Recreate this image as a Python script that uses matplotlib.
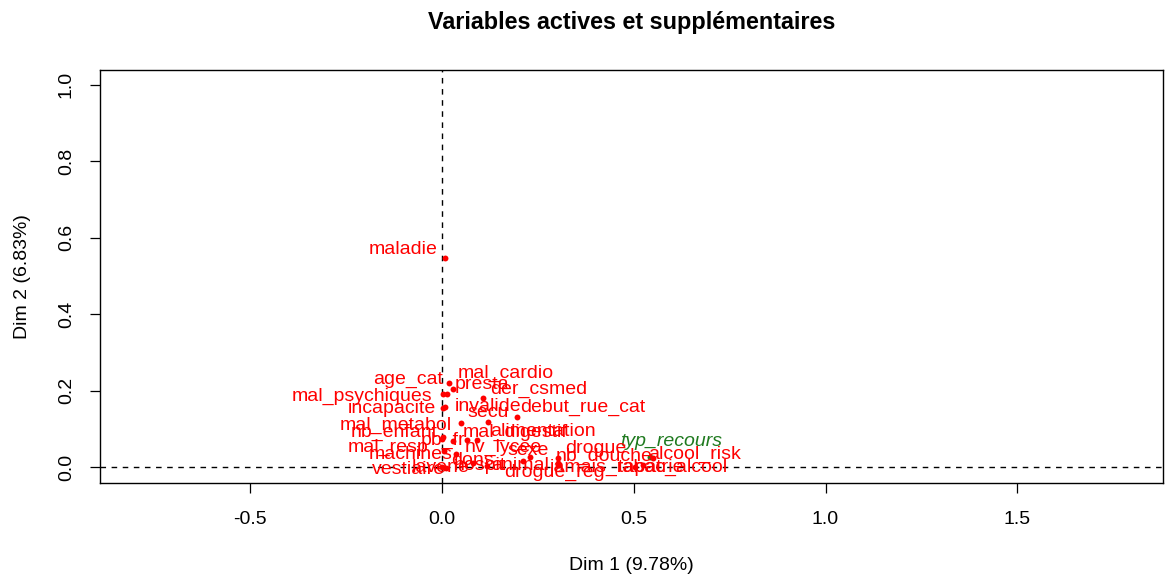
import matplotlib
matplotlib.use("Agg")
import matplotlib.pyplot as plt

plt.rcParams['font.family'] = ['Liberation Sans', 'DejaVu Sans']

# ---- data (MCA variable coordinates) ----
labels = ["maladie", "age_cat", "mal_cardio", "presta", "mal_psychiques", "der_csmed",
          "invalide", "incapacite", "debut_rue_cat", "secu", "mal_metabol", "nb_enfant",
          "mal_digestif", "nv_lycee", "alimentation", "pb_fr", "mal_resp", "machines",
          "dons", "sexe", "animal", "drogue", "nb_douche", "alcool_risk", "vestiaire",
          "laverie", "hospit", "drogue_reg", "jamais_rapatrie", "tabac_alcool",
          "typ_recours"]
dim1 = [0.008, 0.018, 0.029, 0.013, 0.003, 0.107,
        0.008, 0.003, 0.196, 0.120, 0.050, 0.003,
        0.029, 0.065, 0.091, 0.000, 0.005, 0.037,
        0.081, 0.230, 0.211, 0.302, 0.302, 0.550, 0.000,
        0.010, 0.117, 0.302, 0.503, 0.524,
        0.542]
dim2 = [0.547, 0.220, 0.204, 0.191, 0.191, 0.181,
        0.157, 0.154, 0.131, 0.118, 0.115, 0.079,
        0.068, 0.071, 0.071, 0.073, 0.042, 0.034,
        0.010, 0.026, 0.016, 0.024, 0.010, 0.024, 0.000,
        -0.003, 0.003, 0.005, 0.000, 0.005,
        0.026]
kind = ["active"] * 30 + ["supp"]

title = "Variables actives et supplémentaires"
xlabel = "Dim 1 (9.78%)"
ylabel = "Dim 2 (6.83%)"
xticks = [-0.5, 0.0, 0.5, 1.0, 1.5]
yticks = [0.0, 0.2, 0.4, 0.6, 0.8, 1.0]

# ---- label placement (pixel offsets, alignment) ----
label_place = {
    "maladie": (-8, 8, "right"), "age_cat": (-6, 3, "right"),
    "mal_cardio": (5, 16, "left"), "presta": (8, 9, "left"),
    "mal_psychiques": (-11, -2, "right"), "der_csmed": (7, 8, "left"),
    "invalide": (10, 0, "left"), "incapacite": (-7, 0, "right"),
    "debut_rue_cat": (3, 9, "left"), "secu": (0, 9, "center"),
    "mal_metabol": (-9, -2, "right"), "nb_enfant": (-6, 4, "right"),
    "mal_digestif": (10, 9, "left"), "nv_lycee": (-2, -8, "left"),
    "alimentation": (13, 8, "left"), "pb_fr": (1, -1, "center"),
    "mal_resp": (-16, 4, "right"), "machines": (-4, -1, "right"),
    "dons": (-1, 3, "center"), "sexe": (-2, 7, "center"),
    "animal": (-3, -5, "center"), "drogue": (7, 9, "left"),
    "nb_douche": (-2, 7, "left"), "alcool_risk": (-5, 3, "left"),
    "vestiaire": (3, -3, "right"), "laverie": (-5, 1, "center"),
    "hospit": (-7, 0, "center"), "drogue_reg": (-3, -7, "center"),
    "jamais_rapatrie": (-18, 0, "center"), "tabac_alcool": (-25, -2, "left"),
    "typ_recours": (-30, 16, "left"),
}

W, H = 1165, 577
fig = plt.figure(figsize=(W / 100, H / 100), dpi=100)
ax = fig.add_axes([100 / W, 1 - 483 / H, (1163 - 100) / W, (483 - 70) / H])

ax.set_xlim(-0.892, 1.880)
ax.set_ylim(-0.042, 1.039)

ax.axhline(0, color="black", lw=1, ls=(0, (4, 4)), zorder=1)
ax.axvline(0, color="black", lw=1, ls=(0, (4, 4)), zorder=1)

# supplementary first (drawn under active)
for lab, x, y, k in zip(labels, dim1, dim2, kind):
    col = "red" if k == "active" else "#1f7a1f"
    style = "normal" if k == "active" else "italic"
    z = 3 if k == "active" else 2
    ax.scatter([x], [y], s=18, color=col, zorder=z, linewidths=0)
    dx, dy, ha = label_place[lab]
    ax.annotate(lab, (x, y), xytext=(dx, dy), textcoords="offset pixels",
                ha=ha, va="center", color=col, fontsize=14, fontstyle=style,
                zorder=z + 1)

ax.set_xticks(xticks)
ax.set_xticklabels([f"{t:.1f}" for t in xticks])
ax.set_yticks(yticks)
ax.set_yticklabels([f"{t:.1f}" for t in yticks], rotation=90, va="center")
ax.tick_params(axis="both", direction="out", length=7, width=0.9, labelsize=14,
               pad=11, colors="black")
ax.tick_params(axis="x", pad=13)
for sp in ax.spines.values():
    sp.set_linewidth(1.0)
    sp.set_color("black")

fig.text((100 + 1163) / 2 / W, 1 - 565 / H, xlabel, ha="center", va="center", fontsize=14)
fig.text(23 / W, 1 - 277 / H, ylabel, ha="center", va="center", fontsize=14, rotation=90)
fig.text((100 + 1163) / 2 / W, 1 - 22 / H, title, ha="center", va="center",
         fontsize=16.8, fontweight="bold")

fig.savefig("out.png", dpi=100)
